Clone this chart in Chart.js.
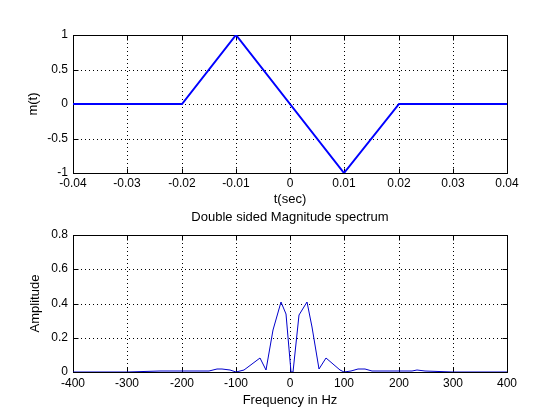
<!DOCTYPE html>
<html>
<head>
<meta charset="utf-8">
<script src="https://cdn.jsdelivr.net/npm/chart.js@4/dist/chart.umd.min.js"></script>
<style>
  html, body { margin: 0; padding: 0; background: #fff; }
  #wrap { position: relative; width: 560px; height: 420px; background: #fff; }
  #wrap canvas { position: absolute; left: 0; }
</style>
</head>
<body>
<div id="wrap">
  <canvas id="topPlot" width="560" height="210" style="top:0"></canvas>
  <canvas id="specPlot" width="560" height="210" style="top:210px"></canvas>
</div>
<script>
// time signal m(t)
const tSec = [-0.04, -0.02, -0.01, 0.01, 0.02, 0.04];
const mVal = [0, 0, 1, -1, 0, 0];
const tTicks = [-0.04, -0.03, -0.02, -0.01, 0, 0.01, 0.02, 0.03, 0.04];
const mTicks = [-1, -0.5, 0, 0.5, 1];

// double sided magnitude spectrum
const freqHz = [-400, -300, -240, -225, -210, -170, -150, -135, -125, -110, -100, -85, -70, -55, -44,
  -31, -17, -7, 1, 6, 17, 31, 41, 54, 67, 80, 92, 100, 112, 126, 138, 152, 170, 200, 225, 235, 248, 300, 400];
const ampVal = [0.002, 0.002, 0.003, 0.008, 0.003, 0.003, 0.005, 0.015, 0.02, 0.01, 0.002, 0.01, 0.045, 0.08, 0.01,
  0.245, 0.41, 0.34, 0.0, 0.0, 0.33, 0.41, 0.26, 0.015, 0.08, 0.045, 0.01, 0.002, 0.005, 0.015, 0.02, 0.005, 0.003, 0.003, 0.005, 0.01, 0.003, 0.002, 0.002];
const fTicks = [-400, -300, -200, -100, 0, 100, 200, 300, 400];
const aTicks = [0, 0.2, 0.4, 0.6, 0.8];

Chart.defaults.color = '#000';
Chart.defaults.font.family = "'Liberation Sans', Arial, Helvetica, sans-serif";
Chart.defaults.font.size = 12;

// matlab style box with inner tick marks
const boxPlugin = {
  id: 'matBox',
  beforeDatasetsDraw(chart) {
    const { ctx, chartArea: a, scales } = chart;
    const L = Math.round(a.left) + 0.5, R = Math.round(a.right) + 0.5;
    const T = Math.round(a.top) + 0.5, B = Math.round(a.bottom) + 0.5;
    ctx.save();
    ctx.strokeStyle = '#000';
    ctx.lineWidth = 1;
    ctx.strokeRect(L, T, R - L, B - T);
    ctx.beginPath();
    scales.x.ticks.forEach(t => {
      const px = Math.round(scales.x.getPixelForValue(t.value)) + 0.5;
      ctx.moveTo(px, B); ctx.lineTo(px, B - 5);
      ctx.moveTo(px, T); ctx.lineTo(px, T + 5);
    });
    scales.y.ticks.forEach(t => {
      const py = Math.round(scales.y.getPixelForValue(t.value)) + 0.5;
      ctx.moveTo(L, py); ctx.lineTo(L + 5, py);
      ctx.moveTo(R, py); ctx.lineTo(R - 5, py);
    });
    ctx.stroke();
    ctx.restore();
  }
};

function fixedTicks(list) {
  return function (scale) {
    scale.ticks = list.map(v => ({ value: v }));
  };
}

function fmt(v) {
  return String(Number(v.toFixed(3)));
}

function axisOpts(min, max, list, title, titlePad, size, labelPad, horiz) {
  return {
    type: 'linear',
    min: min,
    max: max,
    alignToPixels: true,
    afterBuildTicks: fixedTicks(list),
    afterFit: horiz ? (s => { s.height = size; }) : (s => { s.width = size; }),
    ticks: { padding: labelPad, callback: v => fmt(v), font: { size: 12 }, maxRotation: 0, autoSkip: false },
    grid: { color: '#000', lineWidth: 1, drawTicks: false },
    border: { display: false, dash: [1, 3] },
    title: { display: true, text: title, font: { size: 13 }, padding: titlePad }
  };
}

// m(t) vs time
new Chart(document.getElementById('topPlot'), {
  type: 'line',
  data: {
    datasets: [{
      data: tSec.map((t, i) => ({ x: t, y: mVal[i] })),
      borderColor: '#0000ff',
      borderWidth: 2,
      pointRadius: 0,
      tension: 0
    }]
  },
  options: {
    responsive: false,
    animation: false,
    layout: { padding: { top: 35, right: 53, left: 0, bottom: 0 } },
    plugins: { legend: { display: false }, tooltip: { enabled: false } },
    scales: {
      x: axisOpts(-0.04, 0.04, tTicks, 't(sec)', { top: 0, bottom: 3 }, 37, 3, true),
      y: axisOpts(-1, 1, mTicks, 'm(t)', { top: 26, bottom: 0 }, 73, 5, false)
    }
  },
  plugins: [boxPlugin]
});

// magnitude spectrum
new Chart(document.getElementById('specPlot'), {
  type: 'line',
  data: {
    datasets: [{
      data: freqHz.map((f, i) => ({ x: f, y: ampVal[i] })),
      borderColor: '#0000cc',
      borderWidth: 1,
      pointRadius: 0,
      tension: 0
    }]
  },
  options: {
    responsive: false,
    animation: false,
    layout: { padding: { top: 0, right: 53, left: 0, bottom: 0 } },
    plugins: {
      legend: { display: false },
      tooltip: { enabled: false },
      title: {
        display: true,
        fullSize: false,
        text: 'Double sided Magnitude spectrum',
        font: { size: 13, weight: 'normal' },
        padding: { top: 0, bottom: 9.4 }
      }
    },
    scales: {
      x: axisOpts(-400, 400, fTicks, 'Frequency in Hz', { top: 0, bottom: 12 }, 48, 4, true),
      y: axisOpts(0, 0.8, aTicks, 'Amplitude', { top: 28, bottom: 0 }, 73, 5, false)
    }
  },
  plugins: [boxPlugin]
});
</script>
</body>
</html>
